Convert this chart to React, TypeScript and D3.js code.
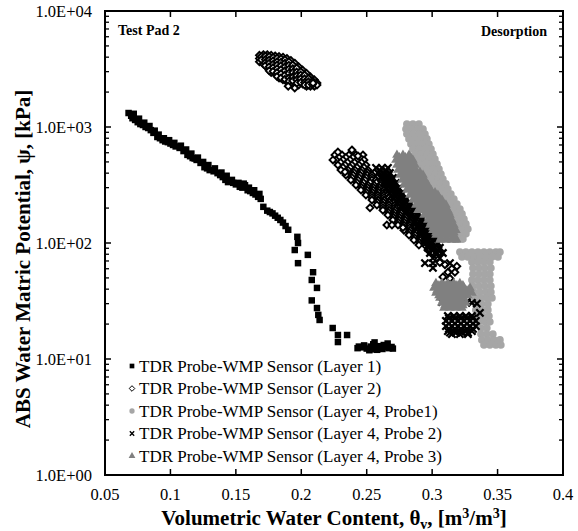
import React from "react";
import * as d3 from "d3";

type Pt = [number, number];

const xTicks = [0.05, 0.1, 0.15, 0.2, 0.25, 0.3, 0.35, 0.4];
const xTickLabels = ["0.05", "0.1", "0.15", "0.2", "0.25", "0.3", "0.35", "0.4"];
const yTicks = [1, 10, 100, 1000, 10000];
const yTickLabels = ["1.0E+00", "1.0E+01", "1.0E+02", "1.0E+03", "1.0E+04"];

const seriesNames = [
  "TDR Probe-WMP Sensor (Layer 1)",
  "TDR Probe-WMP Sensor (Layer 2)",
  "TDR Probe-WMP Sensor (Layer 4, Probe1)",
  "TDR Probe-WMP Sensor (Layer 4, Probe 2)",
  "TDR Probe-WMP Sensor (Layer 4, Probe 3)",
];

const layer1: Pt[] = [
  [0.068, 1320], [0.070, 1250], [0.071, 1190], [0.073, 1150], [0.075, 1100], [0.077, 1060],
  [0.079, 1040], [0.081, 1000], [0.083, 980], [0.085, 940], [0.087, 890], [0.090, 820],
  [0.092, 800], [0.094, 770], [0.096, 750], [0.098, 740], [0.100, 720], [0.102, 700],
  [0.104, 680], [0.107, 660], [0.110, 620], [0.113, 575], [0.115, 560], [0.117, 540],
  [0.1185, 535], [0.120, 520], [0.123, 490], [0.126, 450], [0.128, 440], [0.130, 425],
  [0.133, 415], [0.136, 400], [0.138, 385], [0.140, 370], [0.142, 350], [0.144, 335],
  [0.148, 330], [0.150, 320], [0.153, 305], [0.155, 300], [0.157, 315], [0.159, 285],
  [0.161, 280], [0.163, 270], [0.165, 262], [0.167, 250], [0.169, 240], [0.171, 205],
  [0.174, 190], [0.176, 185], [0.178, 180], [0.180, 172], [0.182, 165], [0.184, 158],
  [0.186, 150], [0.188, 140], [0.190, 130],
  [0.072, 1300], [0.076, 1180], [0.080, 1090], [0.084, 1020], [0.088, 930], [0.091, 860],
  [0.095, 800], [0.099, 770], [0.103, 730], [0.108, 690], [0.112, 640], [0.116, 590],
  [0.121, 545], [0.125, 500], [0.129, 470], [0.134, 440], [0.139, 405], [0.143, 380],
  [0.147, 350], [0.152, 330], [0.156, 325], [0.160, 300], [0.164, 285], [0.168, 265],
  [0.197, 113], [0.1975, 100], [0.195, 87],
  [0.205, 79], [0.1975, 67], [0.209, 56], [0.208, 48], [0.212, 41], [0.208, 32],
  [0.212, 27.5], [0.213, 24], [0.214, 21.7], [0.224, 18.5], [0.228, 16.1], [0.235, 16.1],
  [0.228, 14.0],
  [0.243, 12.4], [0.244, 12.8], [0.247, 12.6], [0.248, 13.1], [0.250, 12.3], [0.252, 11.9],
  [0.253, 12.8], [0.254, 12.1], [0.255, 13.4], [0.256, 13.9], [0.257, 12.5], [0.258, 12.0],
  [0.259, 12.9], [0.260, 12.6], [0.261, 12.3], [0.262, 12.2], [0.263, 13.2], [0.265, 12.6],
  [0.266, 13.6], [0.267, 12.4], [0.269, 12.7], [0.270, 12.3],
];

const layer2: Pt[] = [
  // upper cluster
  [0.168, 4150], [0.168, 3900], [0.168, 3650],
  [0.171, 4200], [0.171, 3950], [0.171, 3700], [0.171, 3500],
  [0.174, 4200], [0.174, 3950], [0.174, 3700], [0.174, 3450], [0.174, 3250],
  [0.177, 4150], [0.177, 3900], [0.177, 3650], [0.177, 3400], [0.177, 3150], [0.177, 2950],
  [0.180, 4100], [0.180, 3850], [0.180, 3600], [0.180, 3350], [0.180, 3100], [0.180, 2900],
  [0.183, 4050], [0.183, 3800], [0.183, 3550], [0.183, 3300], [0.183, 3050], [0.183, 2800], [0.183, 2650],
  [0.186, 4000], [0.186, 3750], [0.186, 3500], [0.186, 3250], [0.186, 3000], [0.186, 2750], [0.186, 2550],
  [0.189, 3900], [0.189, 3650], [0.189, 3400], [0.189, 3150], [0.189, 2900], [0.189, 2650], [0.189, 2450],
  [0.192, 3750], [0.192, 3500], [0.192, 3250], [0.192, 3000], [0.192, 2750], [0.192, 2550], [0.192, 2400],
  [0.195, 3550], [0.195, 3300], [0.195, 3050], [0.195, 2800], [0.195, 2600], [0.195, 2400],
  [0.198, 3300], [0.198, 3100], [0.198, 2850], [0.198, 2650], [0.198, 2450], [0.198, 2300],
  [0.201, 3100], [0.201, 2900], [0.201, 2700], [0.201, 2500], [0.201, 2350],
  [0.204, 2900], [0.204, 2700], [0.204, 2500], [0.204, 2350], [0.204, 2250],
  [0.207, 2700], [0.207, 2550], [0.207, 2400], [0.207, 2250],
  [0.210, 2550], [0.210, 2400], [0.210, 2250], [0.212, 2400], [0.212, 2300],
  [0.1695, 4050], [0.1695, 3800],
  [0.1725, 4080], [0.1725, 3820], [0.1725, 3600], [0.1725, 3380],
  [0.1755, 4050], [0.1755, 3780], [0.1755, 3550], [0.1755, 3300], [0.1755, 3050],
  [0.1785, 3980], [0.1785, 3720], [0.1785, 3480], [0.1785, 3250], [0.1785, 3020],
  [0.1815, 3920], [0.1815, 3650], [0.1815, 3420], [0.1815, 3180], [0.1815, 2950], [0.1815, 2730],
  [0.1845, 3870], [0.1845, 3620], [0.1845, 3380], [0.1845, 3120], [0.1845, 2880], [0.1845, 2650],
  [0.1875, 3800], [0.1875, 3550], [0.1875, 3300], [0.1875, 3050], [0.1875, 2800], [0.1875, 2580],
  [0.1905, 3650], [0.1905, 3400], [0.1905, 3150], [0.1905, 2900], [0.1905, 2650], [0.1905, 2480],
  [0.1935, 3420], [0.1935, 3180], [0.1935, 2950], [0.1935, 2700], [0.1935, 2500],
  [0.1965, 3220], [0.1965, 2980], [0.1965, 2760], [0.1965, 2550], [0.1965, 2380],
  [0.1995, 3000], [0.1995, 2800], [0.1995, 2600], [0.1995, 2420],
  [0.2025, 2800], [0.2025, 2600], [0.2025, 2420], [0.2025, 2300],
  [0.2055, 2620], [0.2055, 2450], [0.2055, 2300],
  [0.2085, 2470], [0.2085, 2320],
  [0.190, 2250], [0.195, 2170], [0.209, 2390],
  // lower band
  [0.2257, 574], [0.2311, 574], [0.2364, 574], [0.2418, 574], [0.2471, 574],
  [0.2288, 546], [0.2341, 546], [0.2395, 546], [0.2448, 546],
  [0.2265, 520], [0.2318, 520], [0.2372, 520], [0.2425, 520], [0.2479, 520],
  [0.2300, 495], [0.2353, 495], [0.2407, 495], [0.2460, 495],
  [0.2280, 470], [0.2334, 470], [0.2387, 470], [0.2441, 470], [0.2494, 470],
  [0.2318, 448], [0.2372, 448], [0.2425, 448], [0.2479, 448],
  [0.2303, 426], [0.2357, 426], [0.2410, 426], [0.2464, 426], [0.2509, 426],
  [0.2349, 406], [0.2402, 406], [0.2456, 406], [0.2505, 406],
  [0.2341, 386], [0.2395, 386], [0.2448, 386], [0.2502, 386], [0.2540, 386],
  [0.2387, 367], [0.2441, 367], [0.2494, 367], [0.2540, 367],
  [0.2379, 349], [0.2433, 349], [0.2486, 349], [0.2540, 349], [0.2571, 349],
  [0.2425, 332], [0.2475, 332], [0.2525, 332], [0.2575, 332],
  [0.2418, 316], [0.2464, 316], [0.2509, 316], [0.2555, 316], [0.2601, 316],
  [0.2460, 301], [0.2506, 301], [0.2551, 301], [0.2597, 301],
  [0.2456, 286], [0.2502, 286], [0.2548, 286], [0.2593, 286], [0.2632, 286],
  [0.2498, 272], [0.2544, 272], [0.2590, 272], [0.2632, 272],
  [0.2494, 259], [0.2540, 259], [0.2586, 259], [0.2632, 259], [0.2662, 259],
  [0.2540, 247], [0.2586, 247], [0.2632, 247], [0.2670, 247],
  [0.2540, 235], [0.2586, 235], [0.2632, 235], [0.2677, 235],
  [0.2582, 224], [0.2628, 224], [0.2674, 224],
  [0.2578, 213], [0.2624, 213], [0.2670, 213], [0.2716, 213],
  [0.2624, 202], [0.2670, 202], [0.2716, 202],
  [0.2624, 192], [0.2670, 192], [0.2716, 192], [0.2761, 192],
  [0.2666, 183], [0.2712, 183], [0.2758, 183],
  [0.2662, 174], [0.2708, 174], [0.2754, 174], [0.2800, 174],
  [0.2704, 166], [0.2750, 166], [0.2796, 166],
  [0.2700, 158], [0.2746, 158], [0.2792, 158], [0.2838, 158],
  [0.2742, 150], [0.2788, 150], [0.2834, 150],
  [0.2739, 143], [0.2784, 143], [0.2830, 143], [0.2876, 143],
  [0.2784, 136], [0.2830, 136], [0.2876, 136],
  [0.2784, 129], [0.2830, 129], [0.2876, 129], [0.2922, 129],
  [0.2826, 123], [0.2872, 123], [0.2918, 123],
  [0.2823, 117], [0.2869, 117], [0.2915, 117], [0.2960, 117],
  [0.2865, 111], [0.2911, 111],
  [0.2861, 106], [0.2907, 106], [0.2953, 106],
  [0.2903, 101], [0.2949, 101],
  [0.2899, 96], [0.2945, 96], [0.2991, 96],
  [0.2242, 520], [0.2280, 608], [0.2387, 634], [0.2433, 563], [0.2334, 410],
  [0.2525, 201], [0.2654, 143], [0.2693, 143], [0.2777, 136],
  [0.2968, 87], [0.3029, 79], [0.3059, 68], [0.3098, 65], [0.3151, 60], [0.3189, 63],
  [0.3120, 56], [0.3174, 56], [0.3082, 51], [0.3136, 49.5],
];

const probe1: Pt[] = [
  [0.2807, 1061], [0.2853, 1061], [0.2899, 1061],
  [0.2800, 961], [0.2846, 961], [0.2892, 961], [0.2930, 961],
  [0.2807, 871], [0.2853, 871], [0.2899, 871], [0.2945, 871],
  [0.2823, 789], [0.2869, 789], [0.2915, 789], [0.2960, 789],
  [0.2838, 713], [0.2884, 713], [0.2930, 713], [0.2975, 713],
  [0.2853, 646], [0.2899, 646], [0.2945, 646], [0.2991, 646],
  [0.2869, 585], [0.2915, 585], [0.2960, 585], [0.3006, 585],
  [0.2884, 529], [0.2930, 529], [0.2975, 529], [0.3021, 529],
  [0.2899, 479], [0.2945, 479], [0.2991, 479], [0.3037, 479],
  [0.2915, 434], [0.2960, 434], [0.3006, 434], [0.3052, 434],
  [0.2930, 393], [0.2975, 393], [0.3021, 393], [0.3067, 393],
  [0.2953, 356], [0.2998, 356], [0.3044, 356], [0.3082, 356],
  [0.2968, 323], [0.3014, 323], [0.3059, 323], [0.3105, 323],
  [0.2991, 292], [0.3037, 292], [0.3082, 292], [0.3120, 292],
  [0.3006, 264], [0.3052, 264], [0.3098, 264], [0.3143, 264],
  [0.3029, 239], [0.3075, 239], [0.3120, 239], [0.3166, 239],
  [0.3052, 217], [0.3098, 217], [0.3143, 217], [0.3189, 217],
  [0.3075, 196], [0.3120, 196], [0.3166, 196], [0.3212, 196],
  [0.3098, 178], [0.3143, 178], [0.3189, 178], [0.3228, 178],
  [0.3113, 161], [0.3159, 161], [0.3205, 161], [0.3243, 161],
  [0.3128, 146], [0.3174, 146], [0.3220, 146], [0.3258, 146],
  [0.3151, 132], [0.3197, 132], [0.3243, 132], [0.3273, 132],
  [0.3174, 120], [0.3220, 120], [0.3258, 120],
  [0.3197, 108], [0.3235, 108],
  // lower cluster
  [0.3212, 83.5], [0.3258, 83.5], [0.3304, 83.5], [0.3350, 83.5], [0.3396, 83.5], [0.3441, 83.5], [0.3487, 83.5], [0.3518, 83.5],
  [0.3228, 75.7], [0.3273, 75.7], [0.3319, 75.7], [0.3365, 75.7], [0.3411, 75.7], [0.3457, 75.7], [0.3503, 75.7],
  [0.3304, 68.5], [0.3350, 68.5], [0.3396, 68.5], [0.3441, 68.5],
  [0.3312, 60.8], [0.3358, 60.8], [0.3403, 60.8], [0.3449, 60.8],
  [0.3312, 54], [0.3358, 54], [0.3403, 54], [0.3441, 54],
  [0.3304, 48], [0.3350, 48], [0.3396, 48], [0.3441, 48],
  [0.3312, 42.6], [0.3358, 42.6], [0.3403, 42.6], [0.3449, 42.6],
  [0.3319, 37.8], [0.3365, 37.8], [0.3411, 37.8], [0.3449, 37.8],
  [0.3327, 33.6], [0.3373, 33.6], [0.3418, 33.6], [0.3457, 33.6],
  [0.3334, 29.8], [0.3380, 29.8], [0.3426, 29.8],
  [0.3334, 26.5], [0.3380, 26.5], [0.3426, 26.5],
  [0.3342, 23.5], [0.3388, 23.5], [0.3434, 23.5],
  [0.3357, 20.9], [0.3403, 20.9], [0.3441, 20.9],
  [0.3373, 18.5], [0.3418, 18.5],
  [0.3373, 16.4], [0.3418, 16.4], [0.3464, 16.4],
  [0.3380, 14.6], [0.3426, 14.6], [0.3472, 14.6], [0.3518, 14.6],
  [0.3396, 13.2], [0.3441, 13.2], [0.3487, 13.2], [0.3525, 13.2],
];

const probe2: Pt[] = [
  [0.2571, 444], [0.2616, 444], [0.2662, 444],
  [0.2601, 422], [0.2647, 422],
  [0.2586, 401], [0.2632, 401], [0.2677, 401],
  [0.2620, 382], [0.2666, 382],
  [0.2609, 363], [0.2654, 363], [0.2700, 363],
  [0.2643, 346], [0.2689, 346],
  [0.2632, 329], [0.2677, 329], [0.2723, 329],
  [0.2666, 313], [0.2712, 313],
  [0.2654, 298], [0.2700, 298], [0.2746, 298],
  [0.2689, 284], [0.2735, 284],
  [0.2677, 270], [0.2723, 270], [0.2769, 270],
  [0.2716, 257], [0.2762, 257],
  [0.2708, 244], [0.2754, 244], [0.2800, 244],
  [0.2746, 232], [0.2792, 232],
  [0.2739, 221], [0.2784, 221], [0.2830, 221],
  [0.2777, 210], [0.2823, 210],
  [0.2769, 200], [0.2815, 200], [0.2861, 200],
  [0.2807, 190], [0.2853, 190],
  [0.2800, 181], [0.2846, 181], [0.2892, 181],
  [0.2838, 172], [0.2884, 172],
  [0.2830, 164], [0.2876, 164], [0.2922, 164],
  [0.2869, 156], [0.2915, 156],
  [0.2861, 149], [0.2907, 149], [0.2953, 149],
  [0.2900, 142], [0.2946, 142],
  [0.2892, 135], [0.2938, 135], [0.2983, 135],
  [0.2927, 128], [0.2973, 128],
  [0.2915, 122], [0.2960, 122], [0.3006, 122],
  [0.2950, 116], [0.2996, 116],
  [0.2938, 110], [0.2983, 110], [0.3029, 110],
  [0.2968, 105], [0.3014, 105],
  [0.2953, 100], [0.2998, 100], [0.3044, 100],
  [0.2983, 95], [0.3029, 95],
  [0.2968, 91], [0.3014, 91], [0.3059, 91],
  [0.3002, 86], [0.3048, 86],
  [0.2983, 82], [0.3037, 82], [0.3082, 82],
  [0.3006, 74], [0.3059, 74],
  [0.2945, 67], [0.3006, 67], [0.3136, 67], [0.3006, 61],
  [0.3075, 31], [0.3266, 31], [0.3304, 30.5], [0.3342, 30], [0.3365, 25],
  // dense cluster near 20 kPa
  [0.3120, 23.5], [0.3166, 23.5], [0.3212, 23.5], [0.3258, 23.5], [0.3304, 23.5],
  [0.3128, 22.4], [0.3174, 22.4], [0.3220, 22.4], [0.3266, 22.4], [0.3312, 22.4],
  [0.3105, 21.3], [0.3151, 21.3], [0.3197, 21.3], [0.3243, 21.3], [0.3289, 21.3], [0.3334, 21.3],
  [0.3128, 20.2], [0.3174, 20.2], [0.3220, 20.2], [0.3266, 20.2], [0.3312, 20.2],
  [0.3105, 19.2], [0.3151, 19.2], [0.3197, 19.2], [0.3243, 19.2], [0.3289, 19.2], [0.3334, 19.2],
  [0.3128, 18.2], [0.3174, 18.2], [0.3220, 18.2], [0.3266, 18.2], [0.3312, 18.2],
  [0.3120, 17.4], [0.3166, 17.4], [0.3212, 17.4], [0.3258, 17.4], [0.3304, 17.4],
  [0.3136, 16.9], [0.3182, 16.9], [0.3228, 16.9], [0.3274, 16.9],
  [0.3151, 16.4], [0.3212, 16.4], [0.3273, 16.4],
];

const probe3: Pt[] = [
  [0.2731, 574], [0.2777, 574], [0.2823, 574],
  [0.2750, 546], [0.2796, 546], [0.2836, 546],
  [0.2723, 520], [0.2769, 520], [0.2815, 520], [0.2853, 520],
  [0.2750, 494], [0.2796, 494], [0.2842, 494],
  [0.2731, 470], [0.2777, 470], [0.2823, 470], [0.2869, 470],
  [0.2758, 448], [0.2804, 448], [0.2850, 448],
  [0.2739, 426], [0.2784, 426], [0.2830, 426], [0.2876, 426],
  [0.2769, 406], [0.2815, 406], [0.2861, 406], [0.2907, 406],
  [0.2754, 386], [0.2800, 386], [0.2846, 386], [0.2892, 386], [0.2930, 386],
  [0.2784, 367], [0.2830, 367], [0.2876, 367], [0.2922, 367],
  [0.2769, 349], [0.2815, 349], [0.2861, 349], [0.2907, 349], [0.2945, 349],
  [0.2800, 332], [0.2846, 332], [0.2892, 332], [0.2938, 332],
  [0.2784, 316], [0.2830, 316], [0.2876, 316], [0.2922, 316], [0.2968, 316],
  [0.2819, 301], [0.2865, 301], [0.2911, 301], [0.2957, 301],
  [0.2807, 286], [0.2853, 286], [0.2899, 286], [0.2945, 286], [0.2991, 286],
  [0.2842, 272], [0.2888, 272], [0.2934, 272], [0.2980, 272], [0.3022, 272],
  [0.2830, 259], [0.2876, 259], [0.2922, 259], [0.2968, 259], [0.3014, 259], [0.3044, 259],
  [0.2865, 247], [0.2911, 247], [0.2957, 247], [0.3003, 247], [0.3052, 247],
  [0.2853, 235], [0.2899, 235], [0.2945, 235], [0.2991, 235], [0.3037, 235], [0.3075, 235],
  [0.2888, 224], [0.2934, 224], [0.2980, 224], [0.3026, 224], [0.3075, 224],
  [0.2876, 213], [0.2922, 213], [0.2968, 213], [0.3014, 213], [0.3059, 213], [0.3105, 213],
  [0.2907, 202], [0.2953, 202], [0.2999, 202], [0.3045, 202], [0.3090, 202],
  [0.2892, 192], [0.2938, 192], [0.2983, 192], [0.3029, 192], [0.3075, 192], [0.3120, 192],
  [0.2953, 183], [0.2999, 183], [0.3045, 183], [0.3090, 183], [0.3128, 183],
  [0.2938, 174], [0.2983, 174], [0.3029, 174], [0.3075, 174], [0.3120, 174], [0.3136, 174],
  [0.2976, 166], [0.3022, 166], [0.3067, 166], [0.3113, 166],
  [0.2968, 158], [0.3014, 158], [0.3059, 158], [0.3105, 158], [0.3151, 158],
  [0.2991, 150], [0.3037, 150], [0.3082, 150], [0.3128, 150],
  [0.2983, 143], [0.3029, 143], [0.3075, 143], [0.3120, 143], [0.3166, 143],
  [0.3006, 136], [0.3052, 136], [0.3098, 136], [0.3143, 136],
  [0.3006, 129], [0.3052, 129], [0.3098, 129], [0.3143, 129], [0.3182, 129],
  [0.3029, 123], [0.3075, 123], [0.3120, 123], [0.3166, 123],
  [0.3029, 117], [0.3075, 117], [0.3120, 117], [0.3166, 117],
  [0.3067, 111], [0.3113, 111], [0.3159, 111],
  [0.3059, 106], [0.3105, 106], [0.3151, 106], [0.3189, 106],
  // lower cluster
  [0.3029, 45], [0.3075, 45], [0.3120, 45], [0.3166, 45], [0.3212, 45],
  [0.3052, 43], [0.3098, 43], [0.3143, 43], [0.3189, 43], [0.3235, 43],
  [0.3014, 41], [0.3059, 41], [0.3105, 41], [0.3151, 41], [0.3197, 41], [0.3243, 41], [0.3289, 41],
  [0.3037, 39], [0.3082, 39], [0.3128, 39], [0.3174, 39], [0.3220, 39], [0.3266, 39],
  [0.3029, 37], [0.3075, 37], [0.3120, 37], [0.3166, 37], [0.3212, 37], [0.3258, 37], [0.3304, 37],
  [0.3052, 35.3], [0.3098, 35.3], [0.3143, 35.3], [0.3189, 35.3], [0.3235, 35.3], [0.3273, 35.3],
  [0.3059, 33.6], [0.3105, 33.6], [0.3151, 33.6], [0.3197, 33.6], [0.3243, 33.6],
  [0.3082, 32], [0.3128, 32], [0.3174, 32], [0.3220, 32],
  [0.3075, 30.4], [0.3120, 30.4], [0.3166, 30.4], [0.3212, 30.4], [0.3258, 30.4],
  [0.3098, 29], [0.3143, 29], [0.3189, 29], [0.3235, 29],
  [0.3090, 27.5], [0.3136, 27.5], [0.3182, 27.5], [0.3228, 27.5],
];

const W = 578;
const H = 531;
const left = 105, right = 563, top = 11, bottom = 475;
const FONT = "'Liberation Serif', 'Times New Roman', serif";

const xScale = d3.scaleLinear().domain([0.05, 0.4]).range([left, right]);
const yScale = d3.scaleLog().domain([1, 10000]).range([bottom, top]);

const diamondType = (d3 as any).symbolDiamond2 || d3.symbolDiamond;

const symSquare = d3.symbol(d3.symbolSquare, 42)();
const symDiamond = d3.symbol(diamondType, 30)();
const symCircle = d3.symbol(d3.symbolCircle, 46)();
const symX = d3.symbol(d3.symbolX, 36)();
const symTri = d3.symbol(d3.symbolTriangle, 40)();

const legSquare = d3.symbol(d3.symbolSquare, 22)();
const legDiamond = d3.symbol(diamondType, 20)();
const legCircle = d3.symbol(d3.symbolCircle, 22)();
const legX = d3.symbol(d3.symbolX, 14)();
const legTri = d3.symbol(d3.symbolTriangle, 20)();

const styles = [
  { d: symSquare, ld: legSquare, fill: "#000", stroke: "none", sw: 0, lsw: 0 },
  { d: symDiamond, ld: legDiamond, fill: "#fff", stroke: "#000", sw: 1.9, lsw: 1 },
  { d: symCircle, ld: legCircle, fill: "#a6a6a6", stroke: "none", sw: 0, lsw: 0 },
  { d: symX, ld: legX, fill: "none", stroke: "#000", sw: 2.3, lsw: 1.4 },
  { d: symTri, ld: legTri, fill: "#808080", stroke: "none", sw: 0, lsw: 0 },
];

const allSeries = [layer1, layer2, probe1, probe2, probe3];

export default function App() {
  const minor: number[] = [];
  [1, 10, 100, 1000].forEach((d) => {
    for (let k = 2; k <= 9; k++) minor.push(d * k);
  });
  const legendY = [366, 388.5, 411, 433.5, 456];
  return (
    <svg
      width={W}
      height={H}
      style={{ position: "absolute", left: 0, top: 0, background: "#fff" }}
      fontFamily={FONT}
    >
      <rect x={0} y={0} width={W} height={H} fill="#fff" />
      {allSeries.map((s, i) => (
        <g key={i}>
          {s.map((p, j) => (
            <path
              key={j}
              d={styles[i].d as string}
              transform={`translate(${xScale(p[0])},${yScale(p[1])})`}
              fill={styles[i].fill}
              stroke={styles[i].stroke}
              strokeWidth={styles[i].sw}
            />
          ))}
        </g>
      ))}
      <rect x={left} y={top} width={right - left} height={bottom - top} fill="none" stroke="#000" strokeWidth={2} />
      {xTicks.map((t, i) => (
        <g key={"xt" + i}>
          <line x1={xScale(t)} x2={xScale(t)} y1={bottom} y2={bottom - 6} stroke="#000" strokeWidth={1.5} />
          <line x1={xScale(t)} x2={xScale(t)} y1={top} y2={top + 6} stroke="#000" strokeWidth={1.5} />
          <text x={xScale(t)} y={500} textAnchor="middle" fontSize={16.5}>
            {xTickLabels[i]}
          </text>
        </g>
      ))}
      {yTicks.map((t, i) => (
        <g key={"yt" + i}>
          <line x1={left} x2={left + 6} y1={yScale(t)} y2={yScale(t)} stroke="#000" strokeWidth={1.5} />
          <line x1={right} x2={right - 6} y1={yScale(t)} y2={yScale(t)} stroke="#000" strokeWidth={1.5} />
          <text x={92} y={yScale(t)} dy="0.35em" textAnchor="end" fontSize={16.5}>
            {yTickLabels[i]}
          </text>
        </g>
      ))}
      {minor.map((t, i) => (
        <g key={"ym" + i}>
          <line x1={left} x2={left + 4} y1={yScale(t)} y2={yScale(t)} stroke="#000" strokeWidth={1.3} />
          <line x1={right} x2={right - 4} y1={yScale(t)} y2={yScale(t)} stroke="#000" strokeWidth={1.3} />
        </g>
      ))}
      <text x={118} y={35} fontSize={14} fontWeight="bold">Test Pad 2</text>
      <text x={547} y={36} fontSize={14} fontWeight="bold" textAnchor="end">Desorption</text>
      {seriesNames.map((n, i) => (
        <g key={"lg" + i}>
          <path
            d={styles[i].ld as string}
            transform={`translate(132,${legendY[i]})`}
            fill={styles[i].fill}
            stroke={styles[i].stroke}
            strokeWidth={styles[i].lsw}
          />
          <text x={139} y={legendY[i]} dy="0.35em" fontSize={17}>
            {n}
          </text>
        </g>
      ))}
      <text x={(left + right) / 2} y={525} textAnchor="middle" fontSize={21} fontWeight="bold">
        Volumetric Water Content, θ
        <tspan fontSize={14} dy={4}>v</tspan>
        <tspan dy={-4}>, [m</tspan>
        <tspan fontSize={14} dy={-7}>3</tspan>
        <tspan dy={7}>/m</tspan>
        <tspan fontSize={14} dy={-7}>3</tspan>
        <tspan dy={7}>]</tspan>
      </text>
      <text
        transform={`translate(30,259) rotate(-90)`}
        textAnchor="middle"
        fontSize={21}
        fontWeight="bold"
      >
        ABS Water Matric Potential, ψ, [kPa]
      </text>
    </svg>
  );
}
